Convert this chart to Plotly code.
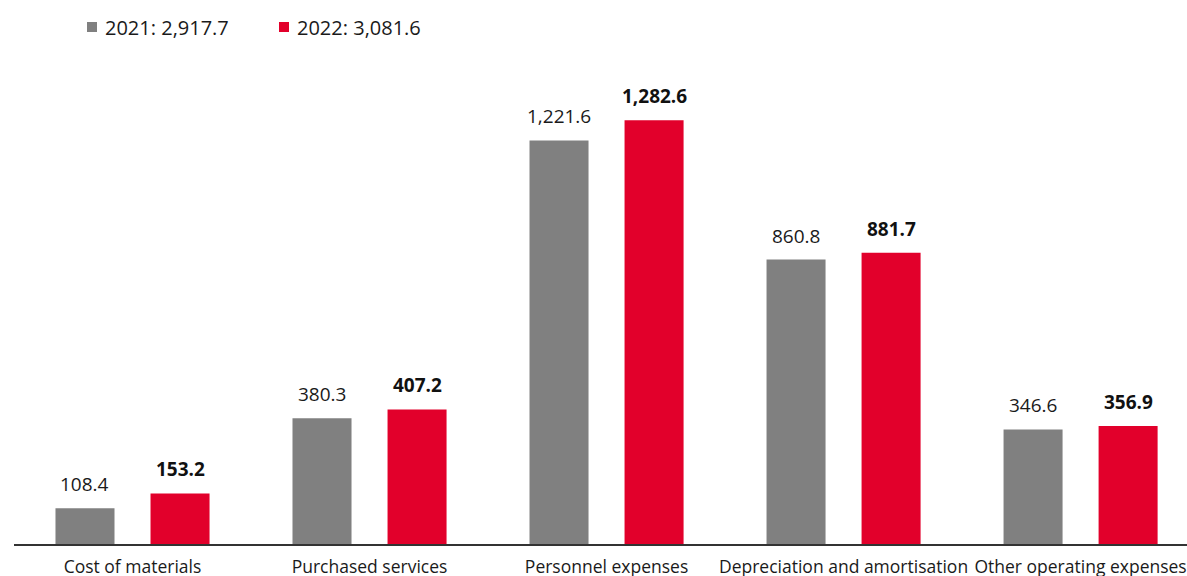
import plotly.graph_objects as go

categories = ["Cost of materials", "Purchased services", "Personnel expenses",
              "Depreciation and amortisation", "Other operating expenses"]
values_2021 = [108.4, 380.3, 1221.6, 860.8, 346.6]
values_2022 = [153.2, 407.2, 1282.6, 881.7, 356.9]
legend_2021 = "2021: 2,917.7"
legend_2022 = "2022: 3,081.6"

GREY = "#808080"
RED = "#e2002b"
FONT = "Open Sans, Noto Sans, sans-serif"
TEXT = "#1a1a1a"

BARGAP = 0.198
BARGROUPGAP = 0.379


def fmt(v):
    return f"{v:,.1f}"


fig = go.Figure()
fig.add_trace(go.Bar(x=categories, y=values_2021, name=legend_2021,
                     marker=dict(color=GREY, line=dict(width=0)), showlegend=False))
fig.add_trace(go.Bar(x=categories, y=values_2022, name=legend_2022,
                     marker=dict(color=RED, line=dict(width=0)), showlegend=False))

# value labels above each bar, offset to the centre of its slot in the group
slot = (1 - BARGAP) / 2
annotations = []
for i, (a, b) in enumerate(zip(values_2021, values_2022)):
    annotations.append(dict(x=i - slot / 2, y=a, xref="x", yref="y", text=fmt(a),
                            showarrow=False, yanchor="bottom", yshift=9,
                            font=dict(family=FONT, size=19, color=TEXT)))
    annotations.append(dict(x=i + slot / 2, y=b, xref="x", yref="y",
                            text=f"<b>{fmt(b)}</b>", showarrow=False,
                            yanchor="bottom", yshift=9,
                            font=dict(family=FONT, size=19, color="#111111")))

# legend: coloured squares with their series totals
shapes = []
for x0, color, label in [(87, GREY, legend_2021), (279, RED, legend_2022)]:
    shapes.append(dict(type="rect", xref="paper", yref="paper",
                       x0=(x0 - 14) / 1173, x1=(x0 + 10 - 14) / 1173,
                       y0=(576 - 32 - 32) / 484, y1=(576 - 22 - 32) / 484,
                       fillcolor=color, line=dict(width=0), layer="above"))
    annotations.append(dict(x=(x0 + 16 - 14) / 1173, y=(576 - 27 - 32) / 484,
                            xref="paper", yref="paper", text=label,
                            showarrow=False, xanchor="left", yanchor="middle",
                            font=dict(family=FONT, size=20, color=TEXT)))

fig.update_layout(
    width=1187, height=576,
    margin=dict(l=14, r=0, t=60, b=32),
    paper_bgcolor="white", plot_bgcolor="white",
    barmode="group", bargap=BARGAP, bargroupgap=BARGROUPGAP,
    font=dict(family=FONT, size=16, color=TEXT),
    showlegend=False,
    annotations=annotations,
    shapes=shapes,
)
fig.update_xaxes(
    range=[-0.5, 4.449], showgrid=False, showline=True, linecolor="#333333",
    linewidth=1.5, ticks="", ticklabelstandoff=6, automargin=False,
    tickfont=dict(family=FONT, size=17.5, color=TEXT), fixedrange=True,
)
fig.update_yaxes(range=[0, 1465], visible=False, showgrid=False, fixedrange=True,
                 automargin=False)

fig.write_html("out.html")
